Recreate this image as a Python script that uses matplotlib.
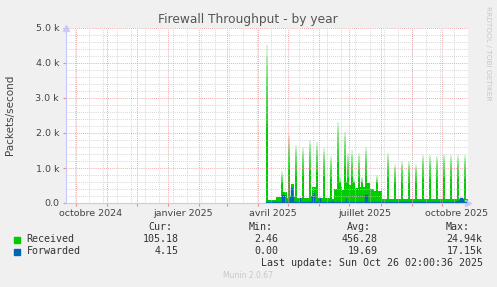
import matplotlib
matplotlib.use("Agg")
import matplotlib.pyplot as plt
import numpy as np
import pandas as pd

# Received packets/s, step values (value holds from its date to the next one)
rx_dates = ["2025-04-09", "2025-04-10", "2025-04-19", "2025-04-24", "2025-04-25", "2025-04-29",
            "2025-05-01", "2025-05-02", "2025-05-04", "2025-05-06", "2025-05-08", "2025-05-09",
            "2025-05-15", "2025-05-16", "2025-05-22", "2025-05-23", "2025-05-25", "2025-05-28",
            "2025-05-29", "2025-05-30", "2025-06-05", "2025-06-06", "2025-06-12", "2025-06-13",
            "2025-06-16", "2025-06-19", "2025-06-20", "2025-06-21", "2025-06-22", "2025-06-23",
            "2025-06-26", "2025-06-27", "2025-06-28", "2025-06-29", "2025-06-30", "2025-07-03",
            "2025-07-04", "2025-07-05", "2025-07-06", "2025-07-10", "2025-07-11", "2025-07-13",
            "2025-07-14", "2025-07-17", "2025-07-18", "2025-07-20", "2025-07-24", "2025-07-27",
            "2025-07-28", "2025-08-01", "2025-08-07", "2025-08-08", "2025-08-14", "2025-08-15",
            "2025-08-21", "2025-08-22", "2025-08-28", "2025-08-29", "2025-09-04", "2025-09-05",
            "2025-09-11", "2025-09-12", "2025-09-18", "2025-09-19", "2025-09-25", "2025-09-26",
            "2025-10-02", "2025-10-03", "2025-10-09", "2025-10-10", "2025-10-16", "2025-10-17",
            "2025-10-23", "2025-10-24", "2025-10-26 12:00"]
rx_values = [4500, 90, 180, 900, 300, 150,
             1950, 200, 530, 180, 1660, 150,
             1600, 130, 1800, 200, 470, 150,
             1750, 150, 1560, 130, 1350, 100,
             400, 2320, 500, 750, 450, 380,
             2040, 450, 650, 1420, 510, 1500,
             400, 700, 420, 1420, 450, 750,
             460, 1600, 560, 400, 330, 800,
             330, 100, 1420, 100, 1100, 100,
             1200, 100, 1200, 100, 1100, 100,
             1370, 100, 1370, 100, 1330, 100,
             1400, 100, 1370, 100, 1370, 100,
             1370, 105, 105]

# Forwarded packets/s
fw_dates = ["2025-04-09", "2025-04-25", "2025-04-29", "2025-05-03", "2025-05-04", "2025-05-06",
            "2025-05-07", "2025-05-13", "2025-05-14", "2025-05-25", "2025-05-26", "2025-05-27",
            "2025-05-28", "2025-06-01", "2025-06-03", "2025-06-14", "2025-06-15", "2025-06-28",
            "2025-06-29", "2025-07-17", "2025-07-19", "2025-08-28", "2025-09-01", "2025-10-16",
            "2025-10-19", "2025-10-22", "2025-10-23", "2025-10-26 12:00"]
fw_values = [20, 230, 20, 150, 430, 200,
             20, 140, 20, 200, 320, 250,
             20, 140, 20, 60, 20, 100,
             20, 220, 20, 40, 20, 60,
             150, 100, 20, 4]

legend_rows = [("Received", "#00CC00", "105.18", "2.46", "456.28", "24.94k"),
               ("Forwarded", "#0066B3", "4.15", "0.00", "19.69", "17.15k")]

W, H = 497, 287


def fx(x):
    return x / W


def fy(y):
    return 1 - y / H


fig = plt.figure(figsize=(W / 100, H / 100), dpi=100, facecolor="#F0F0F0")
ax = fig.add_axes([fx(66), fy(203), (468 - 66) / W, (203 - 28) / H])
ax.set_facecolor("white")

rx_t = pd.to_datetime(rx_dates, format="mixed")
fw_t = pd.to_datetime(fw_dates, format="mixed")
rx = np.array(rx_values, dtype=float)

# solid lower part, then translucent layers so the tall spikes fade out at the top
core = np.minimum(rx, np.maximum(rx * 0.5, 600))
ax.fill_between(rx_t, 0, core, step="post", color="#00CC00", lw=0.5, ec="#00CC00", zorder=2)
for f in np.linspace(1.0, 0.55, 8):
    lay = np.maximum(rx * f, core)
    ax.fill_between(rx_t, 0, lay, step="post", color="#00CC00", alpha=0.16, lw=0.5, zorder=2)
ax.fill_between(fw_t, 0, fw_values, step="post", color="#0066B3", lw=0.3, ec="#0066B3", zorder=3)

x0 = pd.Timestamp("2024-09-21")
x1 = pd.Timestamp("2025-10-27 08:00")
ax.set_xlim(x0, x1)
ax.set_ylim(0, 5000)

# grid, rrdtool style
dot = (0, (1, 1.5))
for v in range(200, 5000, 200):
    if v % 1000:
        ax.axhline(v, color="#C8C8C8", lw=0.6, ls=dot, zorder=4)
for v in range(1000, 5001, 1000):
    ax.axhline(v, color="#E89090", lw=0.6, ls=dot, zorder=5)
for d in pd.date_range("2024-09-30", x1, freq="14D"):
    ax.axvline(d, color="#C8C8C8", lw=0.6, ls=dot, zorder=4)
months = pd.date_range("2024-10-01", x1, freq="MS")
for d in months:
    ax.axvline(d, color="#E89090", lw=0.6, ls=dot, zorder=5)

for s in ["top", "right"]:
    ax.spines[s].set_visible(False)
for s in ["left", "bottom"]:
    ax.spines[s].set_color("#C8C8FF")
    ax.spines[s].set_linewidth(0.8)
    ax.spines[s].set_zorder(6)
ax.plot([0], [1.0], marker="^", ms=4, color="#C8C8FF", transform=ax.transAxes, clip_on=False)
ax.plot([1.0], [0], marker=">", ms=4, color="#C8C8FF", transform=ax.transAxes, clip_on=False)

ax.set_yticks(range(0, 5001, 1000))
ax.set_yticklabels(["0.0", "1.0 k", "2.0 k", "3.0 k", "4.0 k", "5.0 k"])
ax.tick_params(axis="y", length=2, color="#E89090", labelsize=6.8, labelcolor="#444444", pad=3)

ax.set_xticks(months)
ax.set_xticklabels([])
ax.tick_params(axis="x", which="major", length=2, color="#E89090")
label_dates = pd.to_datetime(["2024-10-16", "2025-01-16", "2025-04-16", "2025-07-16", "2025-10-16"])
ax.set_xticks(label_dates, minor=True)
ax.set_xticklabels(["octobre 2024", "janvier 2025", "avril 2025", "juillet 2025", "octobre 2025"],
                   minor=True)
ax.tick_params(axis="x", which="minor", length=0, labelsize=6.8, labelcolor="#444444", pad=4)

fig.text(fx(10), fy(115), "Packets/second", rotation=90, ha="center", va="center",
         fontsize=7.5, color="#444444")
fig.text(fx(248), fy(20), "Firewall Throughput - by year", ha="center", va="center",
         fontsize=8.8, color="#555555")
fig.text(fx(488), fy(53), "RRDTOOL / TOBI OETIKER", rotation=270, ha="center", va="center",
         fontsize=5.3, color="#C8C8C8")

mono = dict(family="DejaVu Sans Mono", fontsize=7.2, color="#333333", va="center")
for txt, xr in zip(["Cur:", "Min:", "Avg:", "Max:"], [172.7, 272.3, 371, 470]):
    fig.text(fx(xr), fy(227.3), txt, ha="right", **mono)
for i, (name, col, cur, mn, avg, mx) in enumerate(legend_rows):
    yy = 239.5 + 12 * i
    fig.patches.append(plt.Rectangle((fx(14), fy(yy + 3)), 6 / W, 6 / H, color=col,
                                     transform=fig.transFigure, figure=fig))
    fig.text(fx(26.5), fy(yy), name, ha="left", **mono)
    for val, xr in zip([cur, mn, avg, mx], [178.3, 278.3, 377.7, 482.7]):
        fig.text(fx(xr), fy(yy), val, ha="right", **mono)
fig.text(fx(482.7), fy(263.3), "Last update: Sun Oct 26 02:00:36 2025", ha="right", **mono)
fig.text(fx(248), fy(276), "Munin 2.0.67", ha="center", va="center", fontsize=5.5, color="#C8C8C8")

fig.savefig("out.png", dpi=100, facecolor=fig.get_facecolor())
